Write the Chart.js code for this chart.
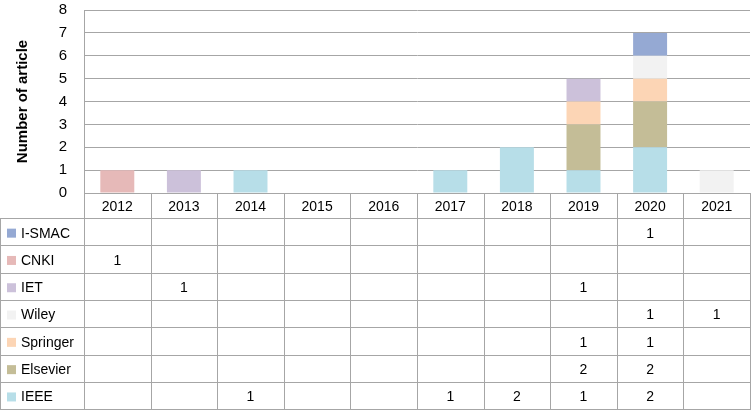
<!DOCTYPE html>
<html>
<head>
<meta charset="utf-8">
<script src="https://cdn.jsdelivr.net/npm/chart.js@4/dist/chart.umd.min.js"></script>
<style>
  html, body { margin: 0; padding: 0; background: #fff; }
  #wrap { width: 751px; height: 410px; }
</style>
</head>
<body>
<div id="wrap"><canvas id="pubChart"></canvas></div>
<script>
// 年ごとの論文数（出版社別）
const years = ["2012", "2013", "2014", "2015", "2016", "2017", "2018", "2019", "2020", "2021"];
const ieee     = [null, null, 1, null, null, 1, 2, 1, 2, null];
const elsevier = [null, null, null, null, null, null, null, 2, 2, null];
const springer = [null, null, null, null, null, null, null, 1, 1, null];
const wiley    = [null, null, null, null, null, null, null, null, 1, 1];
const iet      = [null, 1, null, null, null, null, null, 1, null, null];
const cnki     = [1, null, null, null, null, null, null, null, null, null];
const ismac    = [null, null, null, null, null, null, null, null, 1, null];
const yTicks = [0, 1, 2, 3, 4, 5, 6, 7, 8];

const FONT = "'Liberation Sans', Arial, sans-serif";
const LINE = "#a6a6a6";

// 積み上げ順（下から）
const series = [
  { label: "IEEE", data: ieee, color: "#b7dee8" },
  { label: "Elsevier", data: elsevier, color: "#c4bd97" },
  { label: "Springer", data: springer, color: "#fcd5b5" },
  { label: "Wiley", data: wiley, color: "#f2f2f2" },
  { label: "IET", data: iet, color: "#ccc1da" },
  { label: "CNKI", data: cnki, color: "#e6b9b8" },
  { label: "I-SMAC", data: ismac, color: "#95a9d3" },
];

/**
 * グラフ下のデータテーブル
 */
const dataTable = {
  id: "dataTable",
  afterDraw(chart) {
    const ctx = chart.ctx;
    const x = chart.scales.x;
    const area = chart.chartArea;
    const colW = (area.right - area.left) / years.length;
    const headH = 26;
    const rowH = 27.3;
    const top = area.bottom;
    const rows = series.slice().reverse();
    const bottom = top + headH + rowH * rows.length;

    ctx.save();
    ctx.strokeStyle = LINE;
    ctx.lineWidth = 1;
    ctx.beginPath();
    // 縦線
    for (let i = 0; i <= years.length; i++) {
      const px = Math.round(area.left + colW * i) + 0.5;
      ctx.moveTo(px, top);
      ctx.lineTo(px, bottom);
    }
    ctx.moveTo(0.5, top + headH);
    ctx.lineTo(0.5, bottom);
    // 横線
    for (let r = 0; r <= rows.length; r++) {
      const py = Math.round(top + headH + rowH * r) - 0.5;
      ctx.moveTo(0, py);
      ctx.lineTo(area.right, py);
    }
    ctx.stroke();

    ctx.font = "14px " + FONT;
    ctx.fillStyle = "#000";
    ctx.textBaseline = "middle";
    ctx.textAlign = "center";
    years.forEach((y, i) => {
      ctx.fillText(y, x.getPixelForValue(i), top + headH / 2 + 1);
    });

    rows.forEach((s, r) => {
      const cy = top + headH + rowH * r + rowH / 2;
      ctx.fillStyle = s.color;
      ctx.fillRect(7, cy - 4, 9, 9);
      ctx.fillStyle = "#000";
      ctx.textAlign = "left";
      ctx.fillText(s.label, 21, cy + 1);
      ctx.textAlign = "center";
      s.data.forEach((v, i) => {
        if (v != null) ctx.fillText(String(v), x.getPixelForValue(i), cy + 1);
      });
    });
    ctx.restore();
  },
};

new Chart(document.getElementById("pubChart"), {
  type: "bar",
  data: {
    labels: years,
    datasets: series.map((s) => ({
      label: s.label,
      data: s.data,
      backgroundColor: s.color,
      borderWidth: 0,
      categoryPercentage: 1,
      barPercentage: 0.51,
    })),
  },
  options: {
    responsive: true,
    maintainAspectRatio: false,
    animation: false,
    layout: { padding: { top: 10, right: 1, bottom: 217, left: 0 } },
    plugins: {
      legend: { display: false },
      tooltip: { enabled: false },
    },
    scales: {
      x: {
        stacked: true,
        display: false,
      },
      y: {
        stacked: true,
        min: 0,
        max: 8,
        afterBuildTicks: (s) => { s.ticks = yTicks.map((v) => ({ value: v })); },
        afterFit: (s) => {
          s.width = 84;
          s.paddingTop = 0;
          s.paddingBottom = 0;
        },
        grid: { color: LINE, drawTicks: false },
        border: { color: LINE },
        ticks: { color: "#000", font: { size: 15, family: FONT }, padding: 17 },
        title: {
          display: true,
          text: "Number of article",
          color: "#000",
          font: { size: 15, weight: "bold", family: FONT },
          padding: { top: 14, bottom: 0 },
        },
      },
    },
  },
  plugins: [dataTable],
});
</script>
</body>
</html>
